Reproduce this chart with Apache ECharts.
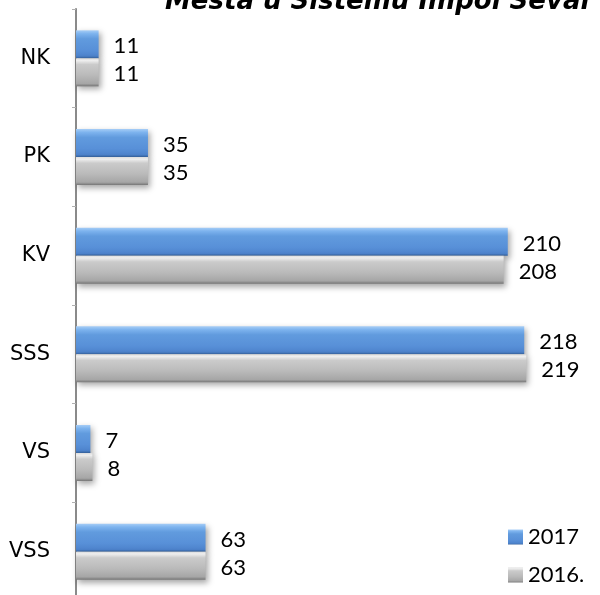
<!DOCTYPE html>
<html>
<head>
<meta charset="utf-8">
<script src="https://cdn.jsdelivr.net/npm/echarts@6/dist/echarts.min.js"></script>
<style>
  html, body { margin: 0; padding: 0; background: #fff; overflow: hidden; }
  /* taller than the window: the original plot area runs past the bottom edge */
  #chart { width: 600px; height: 610px; }
</style>
</head>
<body>
<div id="chart"></div>
<script>
const categories = ['NK', 'PK', 'KV', 'SSS', 'VS', 'VSS'];
const values2017 = [11, 35, 210, 218, 7, 63];
const values2016 = [11, 35, 208, 219, 8, 63];
const seriesNames = ['2017', '2016.'];

// bevelled look of the original bars
const blueFill = new echarts.graphic.LinearGradient(0, 0, 0, 1, [
  { offset: 0, color: '#a6cdf6' },
  { offset: 0.12, color: '#7db3ee' },
  { offset: 0.3, color: '#619bde' },
  { offset: 0.7, color: '#5890d8' },
  { offset: 0.92, color: '#4d83cc' },
  { offset: 1, color: '#36639f' }
]);
const grayFill = new echarts.graphic.LinearGradient(0, 0, 0, 1, [
  { offset: 0, color: '#dcdcdc' },
  { offset: 0.08, color: '#eeeeee' },
  { offset: 0.22, color: '#cbcbcb' },
  { offset: 0.6, color: '#bababa' },
  { offset: 0.9, color: '#a6a6a6' },
  { offset: 1, color: '#767676' }
]);

const labelStyle = {
  show: true,
  position: 'right',
  distance: 15,
  offset: [0, 2],
  color: '#000',
  fontFamily: 'Lato',
  fontSize: 22
};

const barShadow = {
  shadowColor: 'rgba(0,0,0,0.35)',
  shadowBlur: 6,
  shadowOffsetX: 2,
  shadowOffsetY: 3
};

const chart = echarts.init(document.getElementById('chart'));

const option = {
  animation: false,
  title: {
    text: 'Mesta u Sistemu Impol Seval',
    left: 165,
    top: -11,
    padding: 0,
    textStyle: {
      fontFamily: 'DejaVu Sans',
      fontWeight: 'bold',
      fontStyle: 'italic',
      fontSize: 26,
      color: '#000'
    }
  },
  legend: {
    orient: 'vertical',
    left: 503,
    top: 521,
    itemWidth: 15,
    itemHeight: 15,
    itemGap: 16,
    icon: 'rect',
    textStyle: { fontFamily: 'Lato', fontSize: 22, color: '#000' },
    data: seriesNames
  },
  grid: {
    left: 76,
    right: 10,
    top: 9,
    height: 592,
    containLabel: false
  },
  xAxis: {
    type: 'value',
    min: 0,
    max: 250,
    show: false
  },
  yAxis: {
    type: 'category',
    inverse: true,
    data: categories,
    axisLine: { lineStyle: { color: '#8a8a8a', width: 2 } },
    axisTick: { show: true, length: 4, lineStyle: { color: '#b0b0b0' } },
    axisLabel: {
      margin: 26,
      color: '#000',
      fontFamily: 'DejaVu Sans',
      fontSize: 21
    },
    splitLine: { show: false }
  },
  series: [
    {
      name: seriesNames[0],
      type: 'bar',
      data: values2017,
      barWidth: 28,
      barGap: '0%',
      itemStyle: Object.assign({ color: blueFill }, barShadow),
      label: labelStyle
    },
    {
      name: seriesNames[1],
      type: 'bar',
      data: values2016,
      barWidth: 28,
      barGap: '0%',
      itemStyle: Object.assign({ color: grayFill }, barShadow),
      label: labelStyle
    }
  ]
};

chart.setOption(option);
</script>
</body>
</html>
